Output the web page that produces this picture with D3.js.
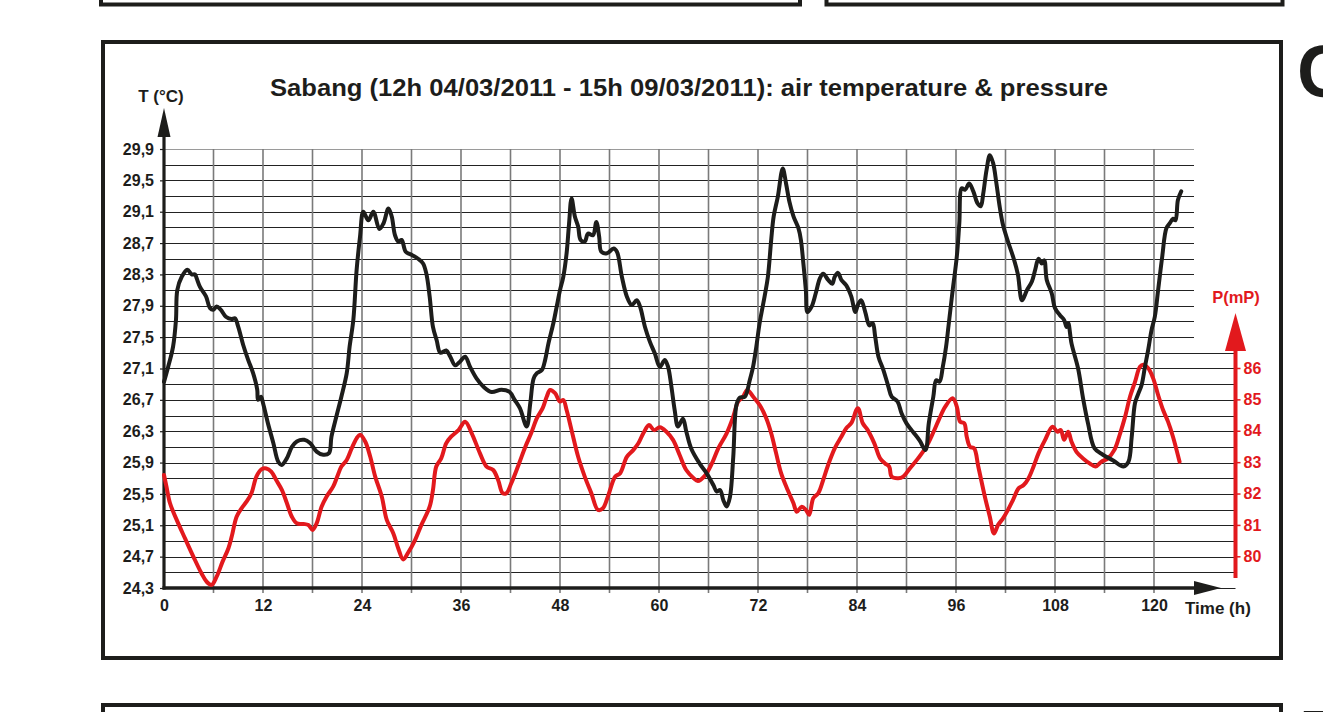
<!DOCTYPE html>
<html>
<head>
<meta charset="utf-8">
<script src="https://cdn.jsdelivr.net/npm/d3@7/dist/d3.min.js"></script>
<style>
  html, body { margin: 0; padding: 0; background: #fff; }
  svg { display: block; }
  text { font-family: "Liberation Sans", Arial, sans-serif; font-weight: bold; }
</style>
</head>
<body>
<svg id="chart" width="1323" height="712"></svg>
<script>
// ---------------- DATA ----------------
const titleText = "Sabang (12h 04/03/2011 - 15h 09/03/2011): air temperature & pressure";
const xTickValues = [0, 12, 24, 36, 48, 60, 72, 84, 96, 108, 120];
const xGridValues = d3.range(6, 121, 6);
const tTickValues = [24.3, 24.7, 25.1, 25.5, 25.9, 26.3, 26.7, 27.1, 27.5, 27.9, 28.3, 28.7, 29.1, 29.5, 29.9];
const tTickLabels = ["24,3", "24,7", "25,1", "25,5", "25,9", "26,3", "26,7", "27,1", "27,5", "27,9", "28,3", "28,7", "29,1", "29,5", "29,9"];
const tGridValues = d3.range(0, 29).map(i => +(24.3 + i * 0.2).toFixed(1));
const pTickValues = [80, 81, 82, 83, 84, 85, 86];

// air temperature (°C) vs hours
const tempHours = [0, 0.5, 1.1, 1.45, 1.61, 2.15, 2.83, 3.36, 3.76, 3.96, 4.36, 5.09, 5.58, 5.98, 6.38, 6.87, 7.5, 8.2, 8.6,
  9.0, 9.6, 10.2, 10.8, 11.3, 11.4, 11.75, 12.0, 12.6, 13.25, 13.85, 14.27, 14.87, 15.5, 16.1, 17.0, 17.7, 18.5, 19.3, 20.0,
  20.3, 20.9, 21.5, 22.15, 22.5, 22.95, 23.35, 23.76, 24.16, 24.77, 25.37, 26.1, 26.6, 27.2, 27.6, 28.0, 28.4, 28.8, 29.3,
  30.0, 30.8, 31.4, 31.8, 32.2, 32.6, 33.05, 33.5, 34.2, 34.7, 35.3, 35.9, 36.5, 37.1, 37.9, 38.7, 39.7, 40.9, 41.9, 42.5,
  43.15, 43.96, 44.4, 44.8, 45.2, 45.8, 46.2, 46.6, 47.2, 47.6, 48.0, 48.4, 48.8, 49.1, 49.4, 49.8, 50.2, 50.5, 51.0, 51.4,
  52.0, 52.4, 52.75, 53.0, 53.7, 54.5, 54.9, 55.5, 56.1, 56.7, 57.3, 57.7, 58.3, 58.9, 59.5, 60.1, 60.7, 61.1, 61.5, 61.9,
  62.3, 62.9, 63.3, 63.9, 64.97, 65.8, 66.6, 67.0, 67.4, 67.8, 68.2, 68.6, 69.0, 69.4, 69.8, 70.4, 71.0, 71.4, 71.8, 72.2,
  72.8, 73.2, 73.6, 73.9, 74.4, 75.0, 75.4, 75.8, 76.3, 76.9, 77.2, 77.5, 77.8, 78.0, 78.5, 79.0, 79.5, 79.9, 80.5, 81.0,
  81.3, 81.7, 82.1, 82.7, 83.3, 83.8, 84.1, 84.5, 85.0, 85.5, 85.9, 86.2, 86.6, 87.2, 87.8, 88.2, 88.9, 89.4, 90.0, 90.8,
  91.6, 92.3, 92.7, 93.25, 93.6, 94.0, 94.4, 94.8, 95.1, 95.6, 96.1, 96.4, 96.7, 97.1, 97.6, 98.1, 98.6, 99.0, 99.3, 99.7,
  100.1, 100.5, 100.9, 101.3, 101.7, 102.3, 103.0, 103.5, 104.0, 104.6, 105.2, 105.6, 106.0, 106.4, 106.7, 107.0, 107.6,
  108.0, 108.6, 109.1, 109.4, 109.6, 110.0, 110.8, 111.4, 112.0, 112.8, 113.8, 115.0, 116.3, 116.9, 117.3, 117.7, 118.1,
  118.5, 118.9, 119.3, 119.7, 120.1, 120.5, 121.0, 121.5, 121.9, 122.3, 122.6, 122.9, 123.3];
const tempValues = [26.93, 27.12, 27.38, 27.72, 28.1, 28.27, 28.36, 28.3, 28.3, 28.25, 28.14, 28.02, 27.87, 27.85, 27.89, 27.85, 27.76, 27.73, 27.74,
  27.63, 27.4, 27.21, 27.04, 26.83, 26.7, 26.74, 26.66, 26.4, 26.15, 25.91, 25.87, 25.95, 26.1, 26.17, 26.19, 26.15, 26.04, 26.0, 26.02,
  26.23, 26.49, 26.74, 27.04, 27.38, 27.72, 28.36, 28.78, 29.1, 28.99, 29.1, 28.88, 28.95, 29.14, 29.04, 28.8, 28.72, 28.74, 28.59,
  28.55, 28.5, 28.44, 28.31, 28.02, 27.63, 27.46, 27.3, 27.33, 27.25, 27.14, 27.19, 27.25, 27.12, 26.97, 26.87, 26.8, 26.83, 26.8, 26.7,
  26.59, 26.36, 26.66, 26.97, 27.04, 27.08, 27.21, 27.42, 27.68, 27.89, 28.1, 28.27, 28.57, 28.95, 29.27, 29.04, 28.91, 28.74, 28.72, 28.82,
  28.8, 28.97, 28.78, 28.59, 28.57, 28.63, 28.59, 28.27, 28.02, 27.91, 27.97, 27.89, 27.63, 27.44, 27.29, 27.12, 27.21, 27.12, 26.87, 26.57,
  26.36, 26.46, 26.3, 26.08, 25.88, 25.76, 25.61, 25.53, 25.55, 25.42, 25.34, 25.46, 25.97, 26.64, 26.73, 26.74, 26.95, 27.12, 27.38, 27.68,
  28.02, 28.27, 28.74, 29.04, 29.29, 29.65, 29.46, 29.23, 29.04, 28.89, 28.74, 28.44, 28.1, 27.82, 27.89, 28.06, 28.25, 28.31, 28.23, 28.18,
  28.27, 28.32, 28.23, 28.16, 28.02, 27.82, 27.91, 27.97, 27.82, 27.65, 27.68, 27.51, 27.25, 27.08, 26.87, 26.74, 26.68, 26.53, 26.4, 26.29,
  26.18, 26.06, 26.4, 26.74, 26.95, 26.93, 27.12, 27.38, 27.65, 28.1, 28.53, 28.95, 29.4, 29.38, 29.46, 29.36, 29.21, 29.17, 29.33, 29.63,
  29.82, 29.72, 29.46, 29.16, 28.93, 28.72, 28.5, 28.3, 27.97, 28.1, 28.21, 28.36, 28.5, 28.44, 28.48, 28.23, 28.06,
  27.87, 27.78, 27.72, 27.63, 27.68, 27.42, 27.1, 26.72, 26.4, 26.08, 26.0, 25.93, 25.85, 25.91, 26.23, 26.66, 26.78,
  26.89, 27.12, 27.34, 27.59, 27.76, 28.1, 28.53, 28.89, 28.95, 29.01, 28.99, 29.25, 29.36];

// air pressure (mP) vs hours
const pressHours = [0, 0.3, 0.73, 1.54, 2.55, 3.56, 4.54, 5.17, 5.78, 6.38, 7.1, 7.8, 8.2, 8.8, 9.4, 10.0, 10.6, 11.2, 11.8, 12.4,
  13.0, 13.6, 14.3, 14.9, 15.5, 16.1, 16.9, 17.5, 18.0, 18.5, 19.1, 19.7, 20.5, 21.0, 21.5, 22.15, 22.75, 23.35, 23.76, 24.4,
  25.0, 25.6, 26.4, 27.0, 27.8, 28.4, 29.0, 29.6, 30.4, 31.2, 32.2, 32.6, 33.0, 33.6, 34.2, 34.8, 35.7, 36.5, 37.3, 38.3,
  39.1, 39.9, 40.5, 41.05, 41.5, 42.1, 42.9, 43.8, 44.5, 45.2, 45.9, 46.4, 46.8, 47.4, 48.0, 48.4, 48.8, 49.4, 50.2, 51.0,
  51.8, 52.6, 53.2, 53.8, 54.7, 55.3, 56.1, 56.9, 57.5, 58.1, 58.8, 59.4, 60.1, 60.9, 61.7, 62.5, 63.3, 64.2, 64.7, 65.6,
  66.4, 67.2, 68.2, 69.0, 69.6, 70.2, 70.7, 71.4, 72.2, 73.0, 73.6, 74.2, 74.8, 75.6, 76.3, 76.7, 77.3, 77.8, 78.2, 78.7,
  79.3, 79.9, 80.5, 81.3, 82.1, 82.7, 83.3, 84.1, 84.7, 85.3, 86.1, 86.8, 87.4, 87.9, 88.2, 89.0, 89.6, 90.4, 91.4, 92.4,
  93.2, 93.9, 94.7, 95.6, 96.1, 96.5, 97.0, 97.3, 97.7, 98.2, 98.7, 99.5, 100.1, 100.6, 101.1, 101.7, 102.3, 102.9, 103.6,
  104.2, 104.8, 105.4, 106.0, 106.8, 107.7, 108.3, 108.7, 109.1, 109.6, 110.0, 110.6, 111.4, 112.2, 112.9, 113.6, 114.4,
  115.2, 115.9, 116.5, 117.1, 117.7, 118.3, 118.7, 119.3, 119.9, 120.5, 121.1, 121.7, 122.3, 123.1];
const pressValues = [82.59, 82.22, 81.69, 81.16, 80.57, 79.99, 79.46, 79.19, 79.09, 79.35, 79.83, 80.25, 80.62, 81.26, 81.53, 81.74, 82.01, 82.54, 82.77, 82.8,
  82.7, 82.43, 82.11, 81.69, 81.26, 81.05, 81.03, 81.0, 80.84, 81.05, 81.58, 81.9, 82.22, 82.54, 82.86, 83.07, 83.44, 83.76, 83.87, 83.65,
  83.17, 82.54, 81.9, 81.16, 80.73, 80.25, 79.9, 80.12, 80.5, 81.0, 81.58, 82.11, 82.86, 83.12, 83.6, 83.81, 84.02, 84.29, 83.92, 83.28,
  82.86, 82.75, 82.43, 82.01, 82.01, 82.33, 82.86, 83.49, 83.92, 84.4, 84.72, 85.09, 85.3, 85.2, 84.93, 84.98, 84.66, 84.02, 83.17, 82.54,
  82.01, 81.48, 81.53, 81.9, 82.54, 82.65, 83.17, 83.39, 83.6, 83.92, 84.18, 84.02, 84.11, 83.97, 83.71, 83.23, 82.75, 82.49, 82.4, 82.58,
  82.95, 83.45, 83.92, 84.45, 84.93, 85.09, 85.3, 85.09, 84.82, 84.4, 83.92, 83.28, 82.65, 82.11, 81.69, 81.42, 81.58, 81.48, 81.32, 81.85,
  82.01, 82.43, 82.91, 83.44, 83.81, 84.08, 84.24, 84.72, 84.24, 84.02, 83.6, 83.12, 82.96, 82.86, 82.54, 82.49, 82.54, 82.8, 83.12, 83.49,
  83.92, 84.34, 84.77, 85.04, 84.77, 84.29, 84.24, 83.81, 83.49, 83.44, 82.86, 81.9, 81.26, 80.73, 81.0, 81.21, 81.48, 81.79, 82.17,
  82.27, 82.49, 82.86, 83.28, 83.71, 84.13, 83.97, 84.02, 83.71, 83.97, 83.65, 83.33, 83.12, 82.96, 82.86, 83.01, 83.12,
  83.39, 83.92, 84.45, 85.09, 85.56, 86.04, 86.1, 85.99, 85.67, 85.14, 84.66, 84.29, 83.81, 83.01];

// ---------------- LAYOUT ----------------
const svg = d3.select("#chart");
const black = "#1d1d1b";
const red = "#e2191d";
const grey = "#7a7a7a";

const x = d3.scaleLinear().domain([0, 120]).range([164, 1154]);
const yT = d3.scaleLinear().domain([24.3, 29.9]).range([588, 149]);
const yP = d3.scaleLinear().domain([80, 86]).range([556.3, 368]);
const pAxisX = 1235.5;
const gridRightHigh = 1194;

// surrounding panel fragments
svg.append("rect").attr("x", 0).attr("y", 0).attr("width", 1323).attr("height", 712).attr("fill", "#fff");
svg.append("rect").attr("x", 101).attr("y", -50).attr("width", 699).attr("height", 54.5)
  .attr("fill", "none").attr("stroke", black).attr("stroke-width", 4);
svg.append("rect").attr("x", 826.5).attr("y", -50).attr("width", 456).attr("height", 54.5)
  .attr("fill", "none").attr("stroke", black).attr("stroke-width", 4);
svg.append("rect").attr("x", 103).attr("y", 705).attr("width", 1178).attr("height", 60)
  .attr("fill", "none").attr("stroke", black).attr("stroke-width", 4);
svg.append("text").attr("x", 1297).attr("y", 97).attr("font-size", 74).attr("fill", black).text("C");
svg.append("text").attr("x", 1303).attr("y", 760).attr("font-size", 70).attr("fill", black).text("T");

// main frame
svg.append("rect").attr("x", 103).attr("y", 42).attr("width", 1178).attr("height", 616)
  .attr("fill", "#fff").attr("stroke", black).attr("stroke-width", 4);

// title
svg.append("text").attr("x", 689).attr("y", 96).attr("text-anchor", "middle")
  .attr("font-size", 24).attr("textLength", 838).attr("lengthAdjust", "spacingAndGlyphs")
  .attr("fill", black).text(titleText);

// horizontal grid
svg.append("g").selectAll("line").data(tGridValues).join("line")
  .attr("x1", x(0)).attr("x2", d => d > 27.4 ? gridRightHigh : pAxisX)
  .attr("y1", d => Math.round(yT(d)) + 0.5).attr("y2", d => Math.round(yT(d)) + 0.5)
  .attr("stroke", d => d === 29.9 ? "#9a9a9a" : "#222").attr("stroke-width", 1.1);

// vertical grid
svg.append("g").selectAll("line").data(xGridValues).join("line")
  .attr("x1", d => x(d)).attr("x2", d => x(d))
  .attr("y1", yT(29.9)).attr("y2", yT(24.3) + 5)
  .attr("stroke", grey).attr("stroke-width", 1.6);

// T axis (left)
const tAxis = d3.axisLeft(yT).tickValues(tTickValues).tickSize(4).tickPadding(6)
  .tickFormat((d, i) => tTickLabels[i]);
const gT = svg.append("g").attr("transform", `translate(${x(0)},0)`).call(tAxis);
gT.select(".domain").remove();
gT.selectAll(".tick line").attr("stroke", black).attr("stroke-width", 1.2);
gT.selectAll(".tick text").attr("font-size", 16).attr("fill", black)
  .attr("font-family", "Liberation Sans, Arial, sans-serif").attr("font-weight", "bold");
svg.append("line").attr("x1", x(0)).attr("x2", x(0)).attr("y1", yT(24.3) + 1.5).attr("y2", 130)
  .attr("stroke", black).attr("stroke-width", 3.2);
svg.append("path").attr("d", `M${x(0)},108 L${x(0) - 6.5},137 L${x(0) + 6.5},137 Z`).attr("fill", black);
svg.append("text").attr("x", 161).attr("y", 102).attr("text-anchor", "middle")
  .attr("font-size", 17).attr("fill", black).text("T (°C)");

// X axis (bottom)
const xAxis = d3.axisBottom(x).tickValues(xTickValues).tickSize(0).tickPadding(12).tickFormat(d3.format("d"));
const gX = svg.append("g").attr("transform", `translate(0,${yT(24.3)})`).call(xAxis);
gX.select(".domain").remove();
gX.selectAll(".tick text").attr("font-size", 16).attr("fill", black)
  .attr("font-family", "Liberation Sans, Arial, sans-serif").attr("font-weight", "bold");
svg.append("line").attr("x1", x(0) - 1.5).attr("x2", 1200).attr("y1", yT(24.3)).attr("y2", yT(24.3))
  .attr("stroke", black).attr("stroke-width", 3.4);
svg.append("path").attr("d", `M1221,${yT(24.3)} L1194,${yT(24.3) - 7} L1194,${yT(24.3) + 7} Z`).attr("fill", black);
svg.append("text").attr("x", 1185).attr("y", 614).attr("font-size", 17).attr("fill", black).text("Time (h)");

// P axis (right)
const pAxis = d3.axisRight(yP).tickValues(pTickValues).tickSize(5).tickPadding(3).tickFormat(d3.format("d"));
const gP = svg.append("g").attr("transform", `translate(${pAxisX},0)`).call(pAxis);
gP.select(".domain").remove();
gP.selectAll(".tick line").attr("stroke", red).attr("stroke-width", 1.5);
gP.selectAll(".tick text").attr("font-size", 16).attr("fill", red)
  .attr("font-family", "Liberation Sans, Arial, sans-serif").attr("font-weight", "bold");
svg.append("line").attr("x1", pAxisX).attr("x2", pAxisX).attr("y1", 578).attr("y2", 345)
  .attr("stroke", red).attr("stroke-width", 4);
svg.append("path").attr("d", `M${pAxisX},313 L${pAxisX - 10.5},351 L${pAxisX + 10.5},351 Z`).attr("fill", red);
svg.append("text").attr("x", 1236).attr("y", 303).attr("text-anchor", "middle")
  .attr("font-size", 16.5).attr("fill", red).text("P(mP)");

// series
const tempData = tempHours.map((h, i) => [h, tempValues[i]]);
const pressData = pressHours.map((h, i) => [h, pressValues[i]]);

svg.append("path").datum(pressData)
  .attr("d", d3.line().x(d => x(d[0])).y(d => yP(d[1])).curve(d3.curveCatmullRom.alpha(0.5)))
  .attr("fill", "none").attr("stroke", red).attr("stroke-width", 4).attr("stroke-linejoin", "round").attr("stroke-linecap", "round");

svg.append("path").datum(tempData)
  .attr("d", d3.line().x(d => x(d[0])).y(d => yT(d[1])).curve(d3.curveCatmullRom.alpha(0.5)))
  .attr("fill", "none").attr("stroke", black).attr("stroke-width", 4).attr("stroke-linejoin", "round").attr("stroke-linecap", "round");
</script>
</body>
</html>
